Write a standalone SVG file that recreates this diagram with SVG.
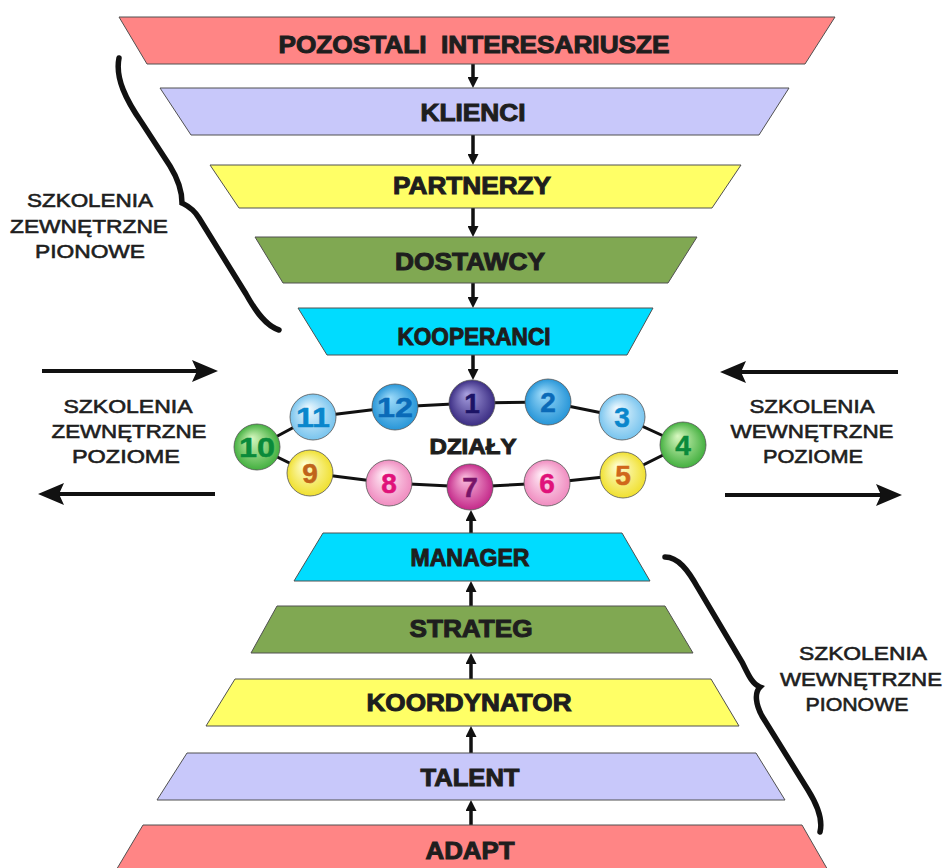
<svg xmlns="http://www.w3.org/2000/svg" width="947" height="868" viewBox="0 0 947 868">
<style>
.trap{stroke:#505050;stroke-width:1}
.lbl{font-family:"Liberation Sans",Arial,sans-serif;font-weight:bold;font-size:24px;fill:#1e1e1e;stroke:#1e1e1e;stroke-width:1;text-anchor:middle}
.side{font-family:"Liberation Sans",Arial,sans-serif;font-size:19px;fill:#1e1e1e;stroke:#1e1e1e;stroke-width:0.6;text-anchor:middle}
.num{font-family:"Liberation Sans",Arial,sans-serif;font-weight:bold;font-size:28px;text-anchor:middle;stroke-width:0.5}
.ball{stroke:#555;stroke-width:0.8}
.varr{stroke:#111;stroke-width:3.5;fill:none;marker-end:url(#ah)}
.harr{stroke:#111;stroke-width:4;fill:none;marker-end:url(#bh)}
.ring{stroke:#111;stroke-width:3;fill:none}
.brace{stroke:#111;stroke-width:5.5;fill:none;stroke-linecap:round;stroke-linejoin:miter}
</style>
<defs>
<marker id="ah" viewBox="0 0 11 11" refX="5" refY="5.5" markerWidth="11" markerHeight="11" markerUnits="userSpaceOnUse" orient="auto"><path d="M0,0 L11,5.5 L0,11 z" fill="#111"/></marker>
<marker id="bh" viewBox="0 0 26 22" refX="20" refY="11" markerWidth="26" markerHeight="22" markerUnits="userSpaceOnUse" orient="auto"><path d="M0,0 L26,11 L0,22 L5,11 z" fill="#111"/></marker>
<radialGradient id="gPurple" cx="0.5" cy="0.5" r="0.5" fx="0.38" fy="0.3"><stop offset="0" stop-color="#a8a0e0"/><stop offset="1" stop-color="#3c2e84"/></radialGradient>
<radialGradient id="gBlue" cx="0.5" cy="0.5" r="0.5" fx="0.38" fy="0.3"><stop offset="0" stop-color="#a0dcfa"/><stop offset="1" stop-color="#2896d8"/></radialGradient>
<radialGradient id="gLBlue" cx="0.5" cy="0.5" r="0.5" fx="0.38" fy="0.3"><stop offset="0" stop-color="#f0faff"/><stop offset="1" stop-color="#78c4ee"/></radialGradient>
<radialGradient id="gGreen" cx="0.5" cy="0.5" r="0.5" fx="0.38" fy="0.3"><stop offset="0" stop-color="#d8f8c0"/><stop offset="1" stop-color="#44b040"/></radialGradient>
<radialGradient id="gYellow" cx="0.5" cy="0.5" r="0.5" fx="0.38" fy="0.3"><stop offset="0" stop-color="#ffffd8"/><stop offset="1" stop-color="#f0e030"/></radialGradient>
<radialGradient id="gPink" cx="0.5" cy="0.5" r="0.5" fx="0.38" fy="0.3"><stop offset="0" stop-color="#fff0f8"/><stop offset="1" stop-color="#f08cc0"/></radialGradient>
<radialGradient id="gMagenta" cx="0.5" cy="0.5" r="0.5" fx="0.38" fy="0.3"><stop offset="0" stop-color="#fcc0e0"/><stop offset="1" stop-color="#c42a8a"/></radialGradient>
</defs>
<rect width="947" height="868" fill="#fff"/>

<g id="connectors">
<polygon class="ring" points="472,403 548,402 622,417 683,445 623,475 547,483 470,487 389,483 310,473 257,447 313,417 395,407"/>
<line class="varr" x1="473" y1="64" x2="473" y2="82"/>
<line class="varr" x1="473" y1="135" x2="473" y2="159"/>
<line class="varr" x1="473" y1="208" x2="473" y2="231"/>
<line class="varr" x1="473" y1="283" x2="473" y2="302"/>
<line class="varr" x1="473" y1="355" x2="473" y2="374"/>
<line class="varr" x1="471" y1="825" x2="471" y2="806"/>
<line class="varr" x1="471" y1="753" x2="471" y2="732"/>
<line class="varr" x1="471" y1="679" x2="471" y2="659"/>
<line class="varr" x1="471" y1="606" x2="471" y2="587"/>
<line class="varr" x1="471" y1="533" x2="471" y2="516"/>
<line class="harr" x1="42" y1="371" x2="212" y2="371"/>
<line class="harr" x1="215" y1="494" x2="44" y2="494"/>
<line class="harr" x1="898" y1="372" x2="726" y2="372"/>
<line class="harr" x1="725" y1="495" x2="896" y2="495"/>
</g>

<g id="pozostali">
<polygon class="trap" fill="#ff8585" points="119,17 835,17 805,64 147,64"/>
<text class="lbl" x="474" y="53" textLength="391" lengthAdjust="spacingAndGlyphs">POZOSTALI&#160; INTERESARIUSZE</text>
</g>
<g id="klienci">
<polygon class="trap" fill="#c8c8fa" points="160,88 789,88 759,135 191,135"/>
<text class="lbl" x="473" y="121" textLength="105" lengthAdjust="spacingAndGlyphs">KLIENCI</text>
</g>
<g id="partnerzy">
<polygon class="trap" fill="#ffff66" points="210,165 741,165 712,208 239,208"/>
<text class="lbl" x="472" y="194" textLength="158" lengthAdjust="spacingAndGlyphs">PARTNERZY</text>
</g>
<g id="dostawcy">
<polygon class="trap" fill="#80a852" points="255,237 697,237 668,283 283,283"/>
<text class="lbl" x="470" y="270" textLength="150" lengthAdjust="spacingAndGlyphs">DOSTAWCY</text>
</g>
<g id="kooperanci">
<polygon class="trap" fill="#00dcff" points="298,308 653,308 627,355 327,355"/>
<text class="lbl" x="474" y="345" textLength="153" lengthAdjust="spacingAndGlyphs">KOOPERANCI</text>
</g>

<g id="manager">
<polygon class="trap" fill="#00dcff" points="323,533 622,533 650,581 294,581"/>
<text class="lbl" x="470" y="566" textLength="119" lengthAdjust="spacingAndGlyphs">MANAGER</text>
</g>
<g id="strateg">
<polygon class="trap" fill="#80a852" points="277,606 665,606 693,653 251,653"/>
<text class="lbl" x="471" y="637" textLength="123" lengthAdjust="spacingAndGlyphs">STRATEG</text>
</g>
<g id="koordynator">
<polygon class="trap" fill="#ffff66" points="235,679 711,679 739,726 206,726"/>
<text class="lbl" x="469" y="711" textLength="205" lengthAdjust="spacingAndGlyphs">KOORDYNATOR</text>
</g>
<g id="talent">
<polygon class="trap" fill="#c8c8fa" points="187,753 756,753 785,800 157,800"/>
<text class="lbl" x="470" y="786" textLength="99" lengthAdjust="spacingAndGlyphs">TALENT</text>
</g>
<g id="adapt">
<polygon class="trap" fill="#ff8585" points="143,825 802,825 829,872 115,872"/>
<text class="lbl" x="470" y="859" textLength="89" lengthAdjust="spacingAndGlyphs">ADAPT</text>
</g>

<g id="dzialy">
<text class="lbl" x="473" y="454" textLength="87" lengthAdjust="spacingAndGlyphs" style="font-size:22px">DZIAŁY</text>
</g>

<g id="d1"><circle class="ball" cx="472" cy="403" r="23" fill="url(#gPurple)"/><text class="num" x="472" y="413" fill="#1c1466" stroke="#1c1466">1</text></g>
<g id="d2"><circle class="ball" cx="548" cy="402" r="23" fill="url(#gBlue)"/><text class="num" x="548" y="412" fill="#0a6ab8" stroke="#0a6ab8">2</text></g>
<g id="d3"><circle class="ball" cx="622" cy="417" r="23" fill="url(#gLBlue)"/><text class="num" x="622" y="427" fill="#0a86cc" stroke="#0a86cc">3</text></g>
<g id="d4"><circle class="ball" cx="683" cy="445" r="23" fill="url(#gGreen)"/><text class="num" x="683" y="455" fill="#0a8a3a" stroke="#0a8a3a">4</text></g>
<g id="d5"><circle class="ball" cx="623" cy="475" r="23" fill="url(#gYellow)"/><text class="num" x="623" y="485" fill="#d0671a" stroke="#d0671a">5</text></g>
<g id="d6"><circle class="ball" cx="547" cy="483" r="23" fill="url(#gPink)"/><text class="num" x="547" y="493" fill="#e0127a" stroke="#e0127a">6</text></g>
<g id="d7"><circle class="ball" cx="470" cy="487" r="23" fill="url(#gMagenta)"/><text class="num" x="470" y="497" fill="#781468" stroke="#781468">7</text></g>
<g id="d8"><circle class="ball" cx="389" cy="483" r="23" fill="url(#gPink)"/><text class="num" x="389" y="493" fill="#e0127a" stroke="#e0127a">8</text></g>
<g id="d9"><circle class="ball" cx="310" cy="473" r="23" fill="url(#gYellow)"/><text class="num" x="310" y="483" fill="#c0641a" stroke="#c0641a">9</text></g>
<g id="d10"><circle class="ball" cx="257" cy="447" r="23" fill="url(#gGreen)"/><text class="num" x="257" y="457" fill="#0a8a3a" stroke="#0a8a3a" textLength="36" lengthAdjust="spacingAndGlyphs">10</text></g>
<g id="d11"><circle class="ball" cx="313" cy="417" r="23" fill="url(#gLBlue)"/><text class="num" x="313" y="427" fill="#0a86cc" stroke="#0a86cc" textLength="34" lengthAdjust="spacingAndGlyphs">11</text></g>
<g id="d12"><circle class="ball" cx="395" cy="407" r="23" fill="url(#gBlue)"/><text class="num" x="395" y="417" fill="#0a6ab8" stroke="#0a6ab8" textLength="36" lengthAdjust="spacingAndGlyphs">12</text></g>

<g id="brace-left">
<path class="brace" d="M119,58 C115,78 126,100 142,123 L170,166 C178,179 182,190 182,203 C186,205 193,208 199,218 L246,294 C256,312 266,326 279,330"/>
</g>
<g id="brace-right">
<path class="brace" d="M665,557 C678,557 688,570 698,588 L742,662 C748,674 752,684 760,687 C754,693 756,705 762,716 L808,790 C818,806 823,820 820,832"/>
</g>

<g id="label-ext-vert">
<text class="side" x="90" y="207" textLength="126" lengthAdjust="spacingAndGlyphs">SZKOLENIA</text>
<text class="side" x="89" y="233" textLength="158" lengthAdjust="spacingAndGlyphs">ZEWNĘTRZNE</text>
<text class="side" x="90" y="258" textLength="110" lengthAdjust="spacingAndGlyphs">PIONOWE</text>
</g>
<g id="label-ext-hor">
<text class="side" x="128" y="413" textLength="129" lengthAdjust="spacingAndGlyphs">SZKOLENIA</text>
<text class="side" x="129" y="438" textLength="155" lengthAdjust="spacingAndGlyphs">ZEWNĘTRZNE</text>
<text class="side" x="126" y="463" textLength="108" lengthAdjust="spacingAndGlyphs">POZIOME</text>
</g>
<g id="label-int-hor">
<text class="side" x="812" y="413" textLength="125" lengthAdjust="spacingAndGlyphs">SZKOLENIA</text>
<text class="side" x="812" y="438" textLength="163" lengthAdjust="spacingAndGlyphs">WEWNĘTRZNE</text>
<text class="side" x="813" y="463" textLength="100" lengthAdjust="spacingAndGlyphs">POZIOME</text>
</g>
<g id="label-int-vert">
<text class="side" x="863" y="660" textLength="128" lengthAdjust="spacingAndGlyphs">SZKOLENIA</text>
<text class="side" x="861" y="686" textLength="162" lengthAdjust="spacingAndGlyphs">WEWNĘTRZNE</text>
<text class="side" x="857" y="711" textLength="103" lengthAdjust="spacingAndGlyphs">PIONOWE</text>
</g>
</svg>
